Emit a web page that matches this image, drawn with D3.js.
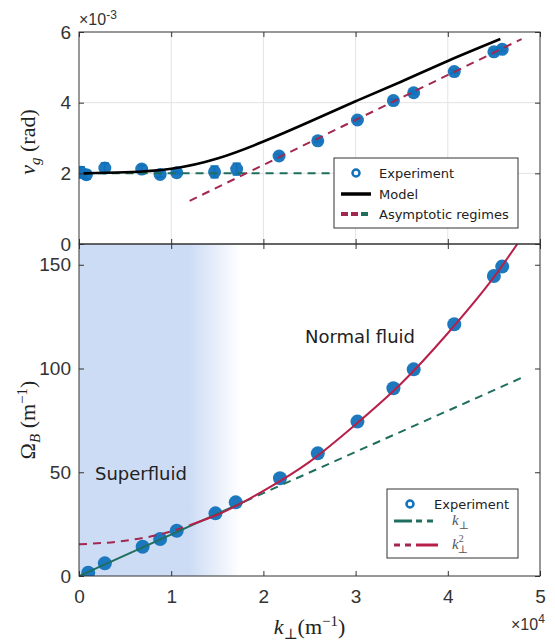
<!DOCTYPE html>
<html>
<head>
<meta charset="utf-8">
<script src="https://cdn.jsdelivr.net/npm/d3@7"></script>
<style>
  body { margin: 0; background: #fff; }
  svg { display: block; }
  .tick text { font-family: "Liberation Sans", Arial, sans-serif; font-size: 19px; fill: #333; }
  .tick line { stroke: #333; }
</style>
</head>
<body>
<svg id="chart" width="555" height="643"></svg>
<script>
'use strict';

// ---- data ----
var xTicks = [0, 1, 2, 3, 4, 5];
var yTopTicks = [0, 2, 4, 6];
var yBotTicks = [0, 50, 100, 150];

// group velocity experiment (x1e4 m^-1, x1e-3 rad)
var kTop = [0.02, 0.08, 0.28, 0.68, 0.88, 1.06, 1.47, 1.71, 2.17, 2.59, 3.02, 3.41, 3.63, 4.07, 4.50, 4.59];
var vTop = [2.03, 1.96, 2.15, 2.12, 1.97, 2.02, 2.04, 2.12, 2.49, 2.92, 3.51, 4.06, 4.28, 4.88, 5.44, 5.51];
var vErr = [0.15, 0.12, 0.14, 0.10, 0.08, 0.03, 0.16, 0.16, 0.05, 0.04, 0.04, 0.04, 0.04, 0.04, 0.05, 0.05];

// model curve
var modelK = [0.05, 0.5, 1.0, 1.5, 2.0, 2.5, 3.0, 3.5, 4.0, 4.57];
var modelV = [2.0, 2.03, 2.13, 2.42, 2.9, 3.46, 4.04, 4.6, 5.18, 5.8];

// asymptotes (top)
var flatK = [0.05, 3.6];
var flatV = [2.0, 2.0];
var slopeK = [1.2, 4.8];
var slopeV = [1.22, 5.8];

// Omega_B experiment (m^-1)
var kBot = [0.10, 0.28, 0.69, 0.88, 1.06, 1.48, 1.70, 2.18, 2.59, 3.02, 3.41, 3.63, 4.07, 4.50, 4.59];
var omega = [1.6, 6.1, 14.1, 17.8, 21.8, 30.2, 35.5, 47.1, 59.1, 74.4, 90.5, 99.6, 121.3, 144.6, 149.1];

// k-linear fit: solid part then dashed extension
var linSolidK = [0, 1.8];
var linSolidW = [0, 36];
var linDashK = [1.8, 4.8];
var linDashW = [36, 95.5];

// k^2 fit: dashed part then solid part
var quadDashK = [0, 0.5, 1.0, 1.2];
var quadDashW = [15.3, 17, 21.5, 24.5];
var quadSolidK = [1.2, 1.5, 2.0, 2.5, 3.0, 3.5, 4.0, 4.5, 4.8];
var quadSolidW = [24.5, 29.5, 41, 55, 73, 93, 117, 144, 163];

// superfluid shading: solid up to shadeFull, fading out by shadeEnd
var shadeFull = 1.2;
var shadeEnd = 1.75;

// ---- layout ----
var left = 79, right = 540;
var topY0 = 32, topY1 = 244, botY0 = 244, botY1 = 576;
var blue = '#1171bb', green = '#1f6e5e', red = '#b8204a', redDash = '#a3284f';

var svg = d3.select('#chart');

var x = d3.scaleLinear().domain([0, 5]).range([left, right]);
var yT = d3.scaleLinear().domain([0, 6]).range([topY1, topY0]);
var yB = d3.scaleLinear().domain([0, 160]).range([botY1, botY0]);

function zip(a, b) { return a.map(function(d, i) { return [d, b[i]]; }); }

var defs = svg.append('defs');
var grad = defs.append('linearGradient').attr('id', 'shade')
    .attr('gradientUnits', 'userSpaceOnUse')
    .attr('x1', x(0)).attr('x2', x(shadeEnd)).attr('y1', 0).attr('y2', 0);
grad.append('stop').attr('offset', shadeFull / shadeEnd).attr('stop-color', '#cddcf5');
grad.append('stop').attr('offset', 1).attr('stop-color', '#cddcf5').attr('stop-opacity', 0);

defs.append('clipPath').attr('id', 'clipTop').append('rect')
    .attr('x', left).attr('y', topY0).attr('width', right - left).attr('height', topY1 - topY0);
defs.append('clipPath').attr('id', 'clipBot').append('rect')
    .attr('x', left).attr('y', botY0).attr('width', right - left).attr('height', botY1 - botY0);

// ---- top panel ----
var gT = svg.append('g');

// grid
gT.append('g').selectAll('line').data(xTicks.slice(1, 5)).enter().append('line')
    .attr('x1', function(d) { return x(d); }).attr('x2', function(d) { return x(d); })
    .attr('y1', topY0).attr('y2', topY1).attr('stroke', '#e3e3e3');
gT.append('g').selectAll('line').data(yTopTicks.slice(1, 3)).enter().append('line')
    .attr('x1', left).attr('x2', right)
    .attr('y1', function(d) { return yT(d); }).attr('y2', function(d) { return yT(d); })
    .attr('stroke', '#e3e3e3');

var lineT = d3.line().x(function(d) { return x(d[0]); }).y(function(d) { return yT(d[1]); });
var lineB = d3.line().x(function(d) { return x(d[0]); }).y(function(d) { return yB(d[1]); });

var plotT = gT.append('g').attr('clip-path', 'url(#clipTop)');

// error bars
var topPts = kTop.map(function(k, i) { return {k: k, v: vTop[i], e: vErr[i]}; });
var eb = plotT.append('g').attr('stroke', blue).attr('stroke-width', 2);
topPts.forEach(function(p) {
  eb.append('line').attr('x1', x(p.k)).attr('x2', x(p.k))
    .attr('y1', yT(p.v - p.e)).attr('y2', yT(p.v + p.e));
  [p.v - p.e, p.v + p.e].forEach(function(v) {
    eb.append('line').attr('x1', x(p.k) - 4).attr('x2', x(p.k) + 4)
      .attr('y1', yT(v)).attr('y2', yT(v));
  });
});
plotT.append('g').selectAll('circle').data(topPts).enter().append('circle')
    .attr('cx', function(d) { return x(d.k); }).attr('cy', function(d) { return yT(d.v); })
    .attr('r', 6.5).attr('fill', blue).attr('fill-opacity', 0.95);

plotT.append('path').datum(zip(flatK, flatV)).attr('d', lineT)
    .attr('fill', 'none').attr('stroke', green).attr('stroke-width', 2).attr('stroke-dasharray', '8,6');
plotT.append('path').datum(zip(slopeK, slopeV)).attr('d', lineT)
    .attr('fill', 'none').attr('stroke', redDash).attr('stroke-width', 2).attr('stroke-dasharray', '8,6');
plotT.append('path').datum(zip(modelK, modelV)).attr('d', lineT.curve(d3.curveNatural))
    .attr('fill', 'none').attr('stroke', '#000').attr('stroke-width', 2.6);

// ---- bottom panel ----
var gB = svg.append('g');
gB.append('rect').attr('x', x(0)).attr('y', botY0).attr('width', x(shadeEnd) - x(0))
    .attr('height', botY1 - botY0).attr('fill', 'url(#shade)');

var plotB = gB.append('g').attr('clip-path', 'url(#clipBot)');
plotB.append('g').selectAll('circle').data(zip(kBot, omega)).enter().append('circle')
    .attr('cx', function(d) { return x(d[0]); }).attr('cy', function(d) { return yB(d[1]); })
    .attr('r', 7).attr('fill', blue).attr('fill-opacity', 0.95);

lineB.curve(d3.curveMonotoneX);
plotB.append('path').datum(zip(linDashK, linDashW)).attr('d', lineB)
    .attr('fill', 'none').attr('stroke', green).attr('stroke-width', 2).attr('stroke-dasharray', '8,6');
plotB.append('path').datum(zip(quadDashK, quadDashW)).attr('d', lineB)
    .attr('fill', 'none').attr('stroke', redDash).attr('stroke-width', 2).attr('stroke-dasharray', '8,6');
plotB.append('path').datum(zip(linSolidK, linSolidW)).attr('d', lineB)
    .attr('fill', 'none').attr('stroke', green).attr('stroke-width', 2);
plotB.append('path').datum(zip(quadSolidK, quadSolidW)).attr('d', lineB)
    .attr('fill', 'none').attr('stroke', red).attr('stroke-width', 2);

// ---- axes (inward ticks, MATLAB style) ----
function axes(yScale, yTicks, y0, y1, showX) {
  var g = svg.append('g');
  g.append('g').attr('transform', 'translate(0,' + y1 + ')')
    .call(d3.axisBottom(x).tickValues(xTicks).tickSize(-5).tickPadding(14)
      .tickFormat(showX ? d3.format('d') : ''))
    .call(function(s) { s.select('.domain').remove(); });
  g.append('g').attr('transform', 'translate(0,' + y0 + ')')
    .call(d3.axisTop(x).tickValues(xTicks).tickSize(-5).tickFormat(''))
    .call(function(s) { s.select('.domain').remove(); });
  g.append('g').attr('transform', 'translate(' + left + ',0)')
    .call(d3.axisLeft(yScale).tickValues(yTicks).tickSize(-5).tickPadding(8).tickFormat(d3.format('d')))
    .call(function(s) { s.select('.domain').remove(); });
  g.append('g').attr('transform', 'translate(' + right + ',0)')
    .call(d3.axisRight(yScale).tickValues(yTicks).tickSize(-5).tickFormat(''))
    .call(function(s) { s.select('.domain').remove(); });
  g.append('rect').attr('x', left).attr('y', y0).attr('width', right - left).attr('height', y1 - y0)
    .attr('fill', 'none').attr('stroke', '#333').attr('stroke-width', 1);
}
axes(yT, yTopTicks, topY0, topY1, false);
axes(yB, yBotTicks, botY0, botY1, true);

// ---- texts ----
var sans = '"Liberation Sans", Arial, sans-serif';
var serif = '"Liberation Serif", "DejaVu Serif", serif';
var deja = '"DejaVu Sans", Verdana, sans-serif';

var e3 = svg.append('text').attr('x', left).attr('y', 25).attr('font-family', sans)
    .attr('font-size', 16).attr('fill', '#333');
e3.append('tspan').text('×10');
e3.append('tspan').attr('dy', -6).attr('font-size', 12).text('-3');

var e4 = svg.append('text').attr('x', 511).attr('y', 630).attr('font-family', sans)
    .attr('font-size', 16).attr('fill', '#333');
e4.append('tspan').text('×10');
e4.append('tspan').attr('dy', -7).attr('font-size', 12).text('4');

var yl1 = svg.append('text').attr('transform', 'translate(35,142) rotate(-90)')
    .attr('text-anchor', 'middle').attr('font-family', serif).attr('font-size', 22).attr('fill', '#222');
yl1.append('tspan').attr('font-style', 'italic').text('v');
yl1.append('tspan').attr('font-style', 'italic').attr('font-size', 15).attr('dy', 5).text('g');
yl1.append('tspan').attr('dy', -5).text(' (rad)');

var yl2 = svg.append('text').attr('transform', 'translate(35,420) rotate(-90)')
    .attr('text-anchor', 'middle').attr('font-family', serif).attr('font-size', 22).attr('fill', '#222');
yl2.append('tspan').text('Ω');
yl2.append('tspan').attr('font-style', 'italic').attr('font-size', 15).attr('dy', 5).text('B');
yl2.append('tspan').attr('dy', -5).text(' (m');
yl2.append('tspan').attr('dy', -8).attr('font-size', 15).text('−1');
yl2.append('tspan').attr('dy', 8).text(')');

var xl = svg.append('text').attr('x', (left + right) / 2).attr('y', 634)
    .attr('text-anchor', 'middle').attr('font-family', serif).attr('font-size', 22).attr('fill', '#222');
xl.append('tspan').attr('font-style', 'italic').text('k');
xl.append('tspan').attr('font-size', 15).attr('dy', 5).text('⊥');
xl.append('tspan').attr('dy', -5).text('(m');
xl.append('tspan').attr('dy', -8).attr('font-size', 15).text('−1');
xl.append('tspan').attr('dy', 8).text(')');

svg.append('text').attr('x', 305).attr('y', 343).attr('font-family', deja).attr('font-size', 18)
    .attr('fill', '#222').text('Normal fluid');
svg.append('text').attr('x', 95).attr('y', 480).attr('font-family', deja).attr('font-size', 18)
    .attr('fill', '#222').text('Superfluid');

// ---- legends ----
var lgT = svg.append('g');
lgT.append('rect').attr('x', 334).attr('y', 158).attr('width', 184).attr('height', 70)
    .attr('fill', '#fff').attr('stroke', '#333');
lgT.append('circle').attr('cx', 356).attr('cy', 173).attr('r', 3.5)
    .attr('fill', '#fff').attr('stroke', blue).attr('stroke-width', 2.5);
lgT.append('line').attr('x1', 341).attr('x2', 371).attr('y1', 194).attr('y2', 194)
    .attr('stroke', '#000').attr('stroke-width', 3.5);
[[341, redDash], [351, redDash], [361, green]].forEach(function(s) {
  lgT.append('line').attr('x1', s[0]).attr('x2', s[0] + 7).attr('y1', 214).attr('y2', 214)
    .attr('stroke', s[1]).attr('stroke-width', 4);
});
[['Experiment', 178], ['Model', 199], ['Asymptotic regimes', 219]].forEach(function(t) {
  lgT.append('text').attr('x', 379).attr('y', t[1]).attr('font-family', deja)
    .attr('font-size', 13).attr('fill', '#222').text(t[0]);
});

var lgB = svg.append('g');
lgB.append('rect').attr('x', 387).attr('y', 489).attr('width', 131).attr('height', 69)
    .attr('fill', '#fff').attr('stroke', '#333');
lgB.append('circle').attr('cx', 410).attr('cy', 504).attr('r', 3.5)
    .attr('fill', '#fff').attr('stroke', blue).attr('stroke-width', 2.5);
lgB.append('text').attr('x', 434).attr('y', 509).attr('font-family', deja)
    .attr('font-size', 13).attr('fill', '#222').text('Experiment');
[[394, 412], [416, 422], [427, 433]].forEach(function(s) {
  lgB.append('line').attr('x1', s[0]).attr('x2', s[1]).attr('y1', 521).attr('y2', 521)
    .attr('stroke', green).attr('stroke-width', 3);
});
[[394, 400], [405, 411], [416, 438]].forEach(function(s) {
  lgB.append('line').attr('x1', s[0]).attr('x2', s[1]).attr('y1', 545).attr('y2', 545)
    .attr('stroke', s[1] === 438 ? red : redDash).attr('stroke-width', 3);
});
var k1 = lgB.append('text').attr('x', 452).attr('y', 525).attr('font-family', serif)
    .attr('font-size', 15).attr('fill', '#555');
k1.append('tspan').attr('font-style', 'italic').text('k');
k1.append('tspan').attr('font-size', 11).attr('dy', 4).text('⊥');
var k2 = lgB.append('text').attr('x', 452).attr('y', 549).attr('font-family', serif)
    .attr('font-size', 15).attr('fill', '#555');
k2.append('tspan').attr('font-style', 'italic').text('k');
k2.append('tspan').attr('font-size', 10).attr('dy', -7).text('2');
k2.append('tspan').attr('font-size', 11).attr('dx', -6).attr('dy', 11).text('⊥');
</script>
</body>
</html>
